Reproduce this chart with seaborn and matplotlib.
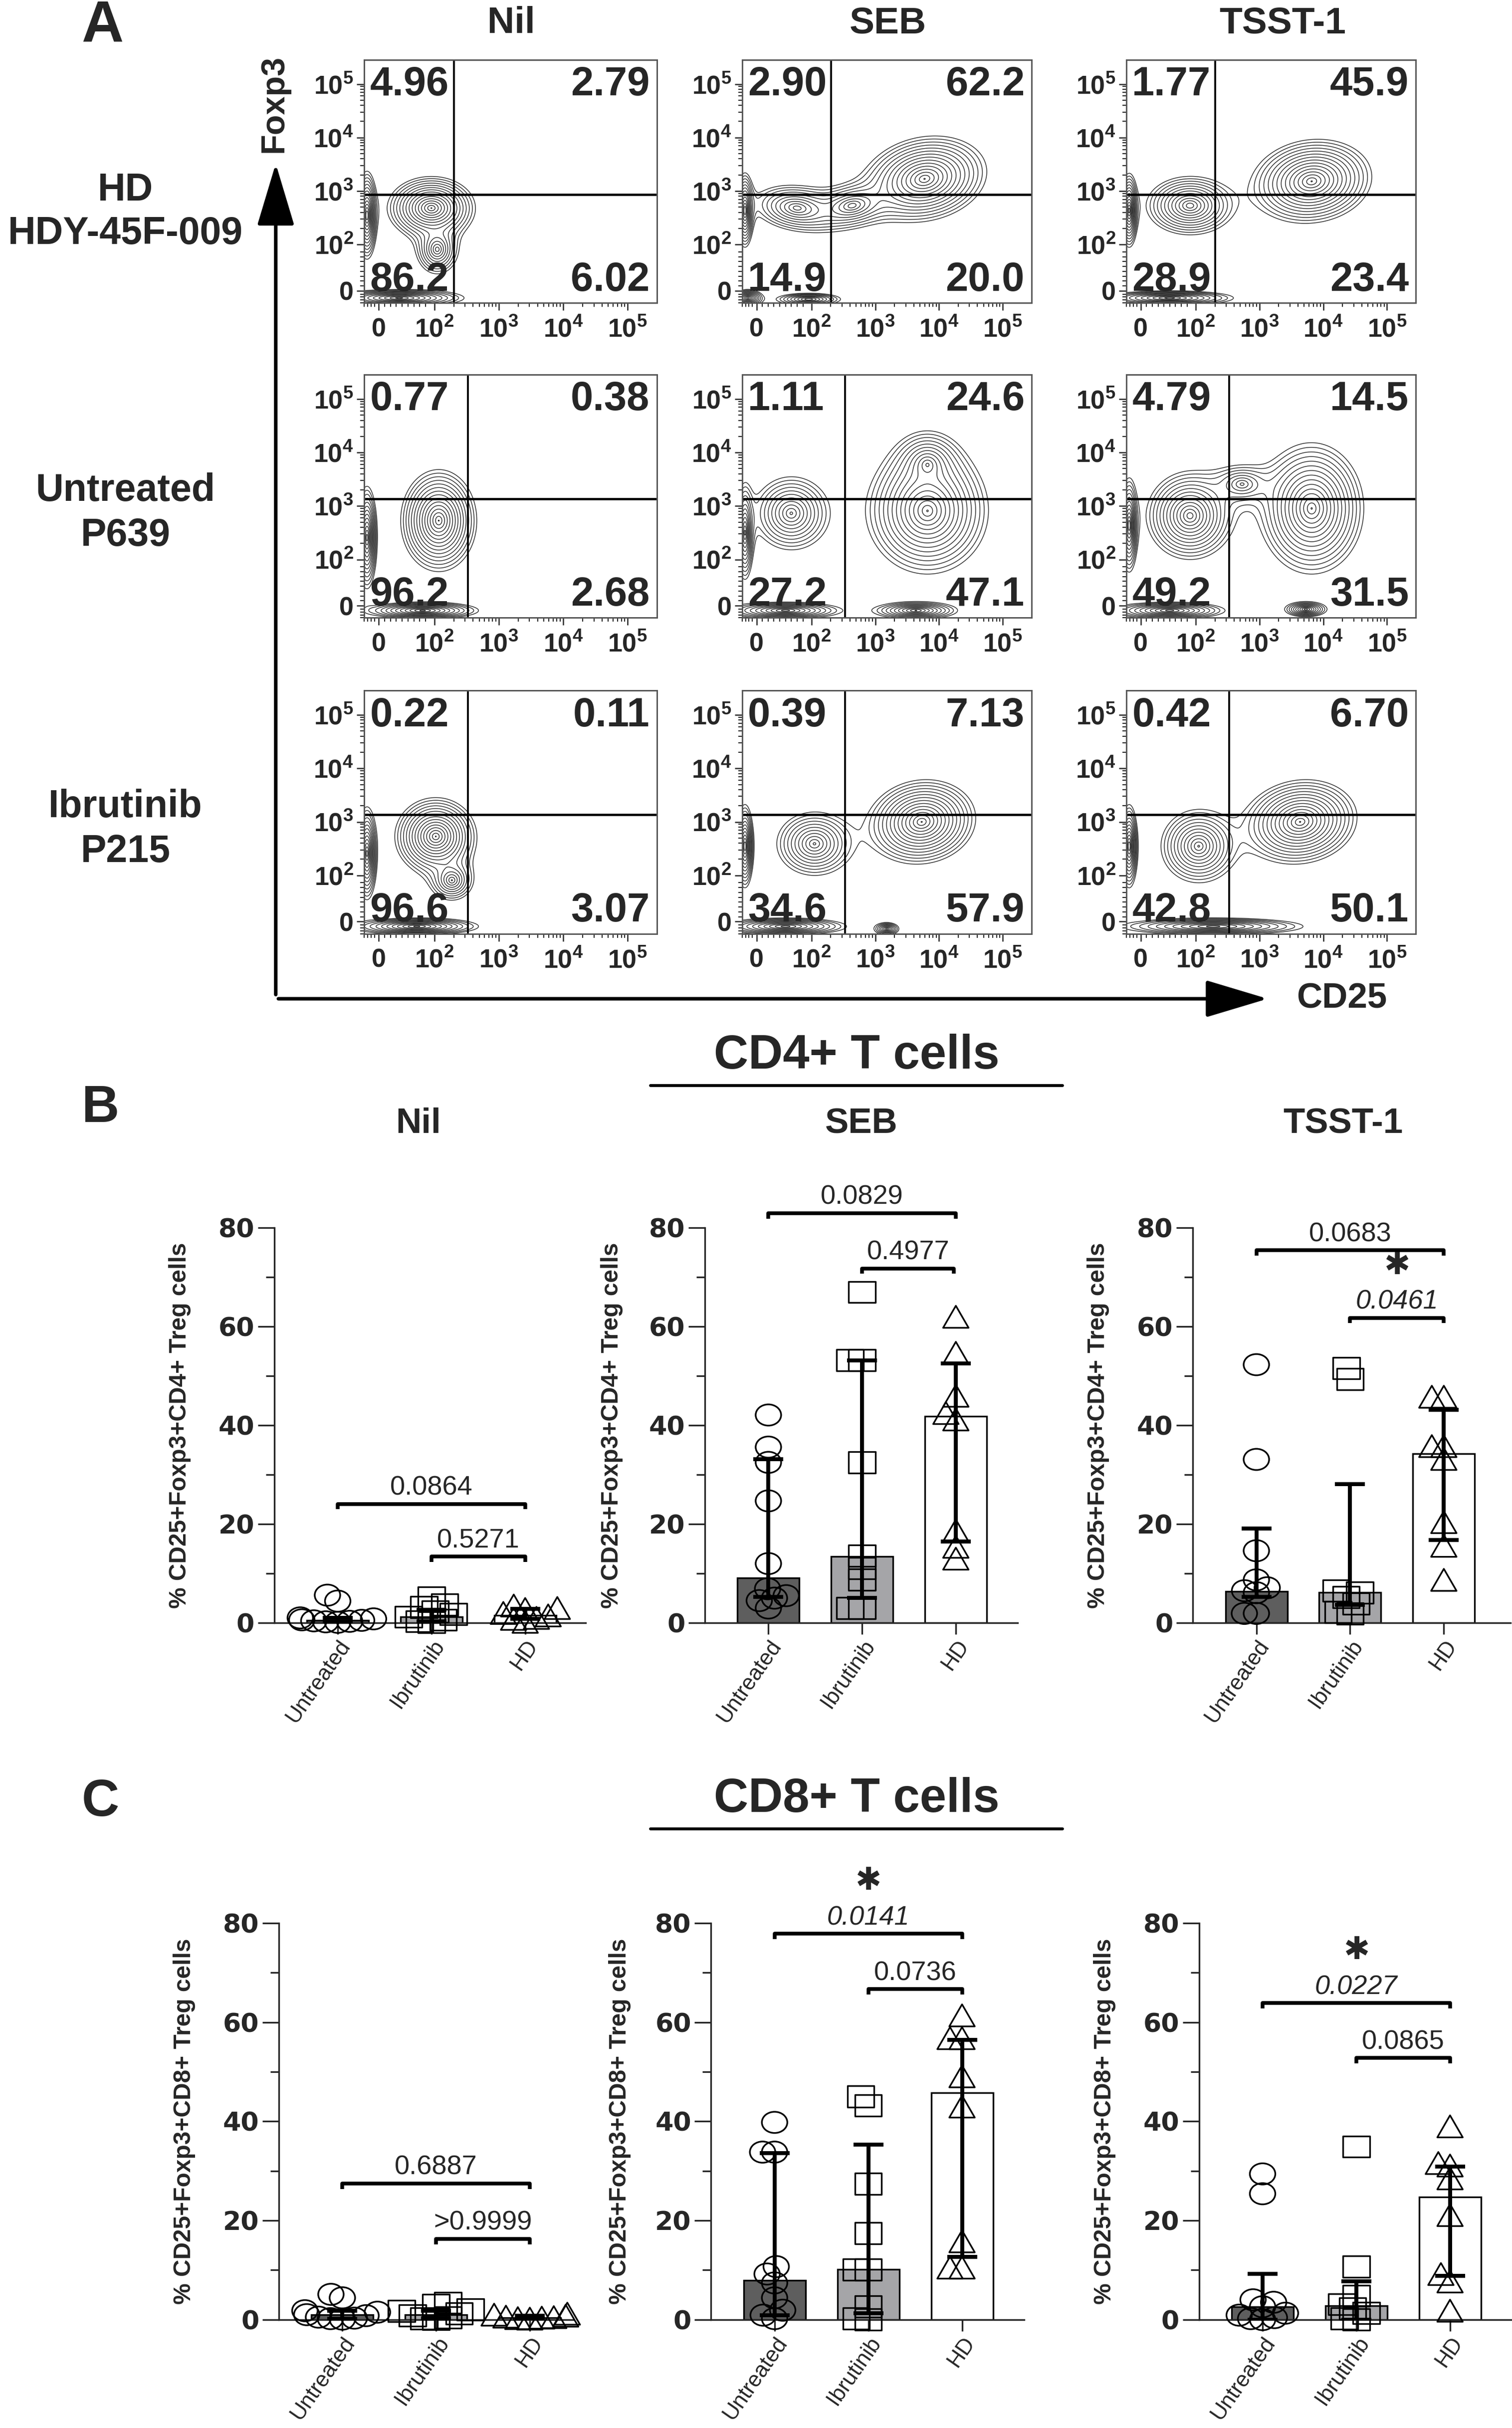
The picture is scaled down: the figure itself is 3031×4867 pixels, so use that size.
import numpy as np
import pandas as pd
import seaborn as sns
import matplotlib.pyplot as plt
from matplotlib.path import Path
from matplotlib.patches import FancyArrowPatch, ArrowStyle
from matplotlib.lines import Line2D
from matplotlib.transforms import Affine2D

# ---------------- data ----------------
groups = ["Untreated", "Ibrutinib", "HD"]
stims = ["Nil", "SEB", "TSST-1"]
donor_lines = [("HD", "HDY-45F-009"), ("Untreated", "P639"), ("Ibrutinib", "P215")]

# quadrant percentages (upper-left, upper-right, lower-left, lower-right)
quad_hd = [["4.96", "2.79", "86.2", "6.02"], ["2.90", "62.2", "14.9", "20.0"], ["1.77", "45.9", "28.9", "23.4"]]
quad_p639 = [["0.77", "0.38", "96.2", "2.68"], ["1.11", "24.6", "27.2", "47.1"], ["4.79", "14.5", "49.2", "31.5"]]
quad_p215 = [["0.22", "0.11", "96.6", "3.07"], ["0.39", "7.13", "34.6", "57.9"], ["0.42", "6.70", "42.8", "50.1"]]

# cell populations seen in the contour plots
# (centre CD25, centre Foxp3, half width, half height, tilt in degrees, relative density), axis fractions
pops_hd_nil = [(0.23, 0.39, 0.15, 0.13, 0, 1.0), (0.25, 0.22, 0.07, 0.10, 0, 0.3),
               (0.01, 0.36, 0.035, 0.18, 0, 0.8), (0.12, 0.02, 0.22, 0.035, 0, 0.5)]
pops_hd_seb = [(0.63, 0.51, 0.22, 0.17, 20, 1.0), (0.19, 0.39, 0.15, 0.09, -10, 0.3),
               (0.38, 0.40, 0.13, 0.08, 15, 0.3), (0.01, 0.38, 0.03, 0.15, 0, 0.6),
               (0.23, 0.015, 0.11, 0.025, 0, 0.25), (0.02, 0.02, 0.05, 0.035, 0, 0.4)]
pops_hd_tsst = [(0.64, 0.50, 0.21, 0.17, 15, 1.0), (0.22, 0.40, 0.15, 0.12, 0, 0.55),
                (0.01, 0.38, 0.03, 0.15, 0, 0.7), (0.15, 0.02, 0.22, 0.03, 0, 0.4)]
pops_p639_nil = [(0.255, 0.40, 0.13, 0.21, 0, 1.0), (0.01, 0.33, 0.035, 0.21, 0, 0.7),
                 (0.20, 0.03, 0.19, 0.035, 0, 0.5)]
pops_p639_seb = [(0.64, 0.44, 0.21, 0.26, 0, 1.0), (0.64, 0.63, 0.10, 0.12, 0, 0.3),
                 (0.17, 0.43, 0.13, 0.15, 0, 0.35), (0.01, 0.35, 0.03, 0.19, 0, 0.5),
                 (0.60, 0.03, 0.14, 0.035, 0, 0.35), (0.15, 0.03, 0.19, 0.035, 0, 0.4)]
pops_p639_tsst = [(0.64, 0.45, 0.18, 0.27, 0, 1.0), (0.22, 0.42, 0.15, 0.18, 0, 0.7),
                  (0.40, 0.55, 0.09, 0.07, 0, 0.15), (0.01, 0.38, 0.03, 0.19, 0, 0.6),
                  (0.62, 0.035, 0.07, 0.03, 0, 0.3), (0.15, 0.03, 0.19, 0.035, 0, 0.4)]
pops_p215_nil = [(0.245, 0.40, 0.14, 0.16, 0, 1.0), (0.30, 0.22, 0.07, 0.08, 0, 0.25),
                 (0.01, 0.33, 0.035, 0.19, 0, 0.7), (0.18, 0.03, 0.21, 0.035, 0, 0.5)]
pops_p215_seb = [(0.62, 0.46, 0.19, 0.17, 25, 1.0), (0.25, 0.37, 0.13, 0.13, 0, 0.35),
                 (0.01, 0.36, 0.03, 0.17, 0, 0.6), (0.15, 0.03, 0.21, 0.035, 0, 0.4),
                 (0.50, 0.02, 0.04, 0.025, 0, 0.2)]
pops_p215_tsst = [(0.60, 0.46, 0.20, 0.17, 20, 1.0), (0.25, 0.36, 0.13, 0.15, 0, 0.45),
                  (0.01, 0.36, 0.03, 0.17, 0, 0.6), (0.30, 0.03, 0.31, 0.035, 0, 0.4)]

# B: CD4+ Treg %, individual subjects, median and interquartile range
cd4_nil_untreated = [5.6, 4.4, 1.0, 0.8, 0.6, 0.5, 0.4, 0.3, 0.2, 0.1]
cd4_nil_ibrutinib = [5.1, 3.7, 3.2, 2.3, 1.8, 1.2, 0.6, 0.3, 0.1]
cd4_nil_hd = [3.5, 3.0, 2.8, 2.0, 1.5, 1.0, 0.8, 0.2]
cd4_nil_median = [0.5, 1.2, 1.5]
cd4_nil_q1 = [0.2, 0.3, 0.8]
cd4_nil_q3 = [1.0, 2.6, 2.8]
cd4_nil_p = ["0.0864", "0.5271"]

cd4_seb_untreated = [42.1, 35.6, 32.5, 24.7, 12.0, 6.9, 5.5, 5.0, 4.5, 3.0]
cd4_seb_ibrutinib = [67.0, 53.2, 53.2, 32.5, 13.6, 11.1, 8.7, 3.0, 3.0]
cd4_seb_hd = [62.0, 54.7, 46.0, 42.5, 41.2, 18.7, 15.4, 13.0]
cd4_seb_median = [9.1, 13.4, 41.8]
cd4_seb_q1 = [5.2, 5.0, 16.5]
cd4_seb_q3 = [33.1, 53.2, 52.6]
cd4_seb_p = ["0.0829", "0.4977"]

cd4_tsst_untreated = [52.3, 33.1, 14.6, 8.7, 7.1, 6.5, 6.1, 1.9, 1.9]
cd4_tsst_ibrutinib = [51.6, 49.4, 6.5, 6.1, 5.2, 3.9, 2.2, 1.9]
cd4_tsst_hd = [45.8, 45.8, 35.8, 35.8, 33.2, 20.4, 15.6, 8.7]
cd4_tsst_median = [6.4, 6.2, 34.3]
cd4_tsst_q1 = [5.2, 3.6, 16.8]
cd4_tsst_q3 = [19.1, 28.1, 43.2]
cd4_tsst_p = ["0.0683", "0.0461"]

# C: CD8+ Treg %
cd8_nil_untreated = [5.1, 4.4, 1.8, 1.5, 1.0, 0.8, 0.5, 0.3, 0.2, 0.1]
cd8_nil_ibrutinib = [3.4, 3.0, 2.0, 1.7, 1.2, 0.8, 0.4, 0.2, 0.1]
cd8_nil_hd = [1.2, 1.0, 0.8, 0.6, 0.5, 0.4, 0.3, 0.2]
cd8_nil_median = [1.0, 1.0, 0.4]
cd8_nil_q1 = [0.2, 0.3, 0.2]
cd8_nil_q3 = [1.8, 1.8, 0.8]
cd8_nil_p = ["0.6887", ">0.9999"]

cd8_seb_untreated = [39.8, 33.8, 33.8, 10.7, 9.2, 7.4, 4.4, 1.9, 0.9, 0.2]
cd8_seb_ibrutinib = [45.0, 43.2, 27.4, 17.4, 10.1, 10.1, 2.6, 0.2, 0.0]
cd8_seb_hd = [61.4, 56.8, 56.8, 49.1, 43.0, 15.8, 10.5, 10.5]
cd8_seb_median = [7.9, 10.1, 45.8]
cd8_seb_q1 = [0.9, 1.3, 12.7]
cd8_seb_q3 = [33.6, 35.3, 56.5]
cd8_seb_p = ["0.0141", "0.0736"]

cd8_tsst_untreated = [29.4, 25.4, 4.0, 3.5, 2.6, 1.3, 0.9, 0.4, 0.2, 0.0]
cd8_tsst_ibrutinib = [34.9, 10.7, 4.8, 3.1, 2.2, 1.3, 0.2, 0.0]
cd8_tsst_hd = [39.0, 31.6, 31.1, 28.5, 21.1, 9.2, 7.7, 1.8]
cd8_tsst_median = [2.6, 2.8, 24.7]
cd8_tsst_q1 = [0.0, 0.0, 8.8]
cd8_tsst_q3 = [9.2, 7.7, 30.9]
cd8_tsst_p = ["0.0227", "0.0865"]

# ---------------- style ----------------
sns.set_style("ticks")
plt.rcParams["font.family"] = ["Liberation Sans", "DejaVu Sans"]
plt.rcParams["mathtext.fontset"] = "custom"
plt.rcParams["mathtext.rm"] = "Liberation Sans:bold"
plt.rcParams["mathtext.bf"] = "Liberation Sans:bold"

bar_colors = ["#5e5e5e", "#a4a4a8", "#ffffff"]

ellipse = Path.unit_circle().transformed(Affine2D().scale(1.2, 1.0))
square = Path([(-1.25, -1), (1.25, -1), (1.25, 1), (-1.25, 1), (-1.25, -1)],
              [Path.MOVETO, Path.LINETO, Path.LINETO, Path.LINETO, Path.CLOSEPOLY])
triangle = Path([(-1, -0.866), (1, -0.866), (0, 0.866), (-1, -0.866)],
                [Path.MOVETO, Path.LINETO, Path.LINETO, Path.CLOSEPOLY])
markers = [ellipse, square, triangle]
marker_s = [150, 165, 150]

# layout in reference pixels (976 x 1568 grid)
W, H = 976.0, 1568.0
fig = plt.figure(figsize=(3031 / 300, 4867 / 300), dpi=300)


def fx(x):
    return x / W


def fy(y):
    return 1 - y / H


def ftext(x, y, s, **kw):
    fig.text(fx(x), fy(y), s, ha=kw.pop("ha", "center"), va=kw.pop("va", "center"), **kw)


# ---------------- panel A: flow plots ----------------
flow_cols = [(235, 424), (479, 666), (727, 914)]
flow_rows = [(38.6, 195.6), (242, 399), (446, 603)]
gate_x = [0.307, 0.355, 0.355]
gate_y = [0.445, 0.49, 0.49]
quads = [quad_hd, quad_p639, quad_p215]
pops = [[pops_hd_nil, pops_hd_seb, pops_hd_tsst],
        [pops_p639_nil, pops_p639_seb, pops_p639_tsst],
        [pops_p215_nil, pops_p215_seb, pops_p215_tsst]]

flow_major = [0.05, 0.24, 0.46, 0.68, 0.90]
flow_labels = ["0", r"$10^{2}$", r"$10^{3}$", r"$10^{4}$", r"$10^{5}$"]
flow_minor = [0.0, 0.012, 0.024, 0.036, 0.07, 0.09, 0.11, 0.13, 0.15, 0.17, 0.19, 0.21]
for k in range(3):
    for m in range(2, 10):
        flow_minor.append(0.24 + 0.22 * (k + np.log10(m)))

grid = np.linspace(0, 1, 450)
U, V = np.meshgrid(grid, grid)
lowest = 0.02
levels = np.geomspace(lowest, 0.95, 15)

for r, (top, bot) in enumerate(flow_rows):
    for c, (left, right) in enumerate(flow_cols):
        ax = fig.add_axes([fx(left), fy(bot), (right - left) / W, (bot - top) / H])
        dens = np.zeros_like(U)
        for cx, cy, hw, hh, ang, peak in pops[r][c]:
            reach = np.log(peak / lowest)
            t = np.deg2rad(ang)
            du, dv = U - cx, V - cy
            a = (du * np.cos(t) + dv * np.sin(t)) / (hw / reach)
            b = (-du * np.sin(t) + dv * np.cos(t)) / (hh / reach)
            dens += peak * np.exp(-np.sqrt(a * a + b * b))
        ax.contour(U, V, dens, levels=levels, colors="#262626", linewidths=0.35)
        ax.axvline(gate_x[r], color="black", lw=0.9)
        ax.axhline(gate_y[r], color="black", lw=1.1)
        ax.set_xlim(0, 1)
        ax.set_ylim(0, 1)
        for sp in ax.spines.values():
            sp.set_linewidth(0.7)
            sp.set_color("#555555")
        ax.set_xticks(flow_major)
        ax.set_yticks(flow_major)
        ax.set_xticks(flow_minor, minor=True)
        ax.set_yticks(flow_minor, minor=True)
        ax.set_xticklabels(flow_labels, fontsize=12.5, fontweight="bold")
        ax.set_yticklabels(flow_labels, fontsize=12.5, fontweight="bold")
        ax.tick_params(which="major", length=3.5, width=0.6, pad=1.5)
        ax.tick_params(which="minor", length=2, width=0.5)
        ax.tick_params(axis="x", which="major", pad=3.5)
        q = quads[r][c]
        kw = dict(fontsize=19.5, fontweight="bold", transform=ax.transAxes)
        ax.text(0.02, 0.975, q[0], ha="left", va="top", **kw)
        ax.text(0.975, 0.975, q[1], ha="right", va="top", **kw)
        ax.text(0.02, 0.015, q[2], ha="left", va="bottom", **kw)
        ax.text(0.975, 0.015, q[3], ha="right", va="bottom", **kw)

ftext(66, 17, "A", fontsize=28, fontweight="bold")
for s, xc in zip(stims, [330, 573, 828]):
    ftext(xc, 15, s, fontsize=18, fontweight="bold")
for (l1, l2), (y1, y2) in zip(donor_lines, [(123, 151), (317, 346), (521, 550)]):
    ftext(81, y1, l1, fontsize=18.5, fontweight="bold")
    ftext(81, y2, l2, fontsize=18.5, fontweight="bold")

astyle = ArrowStyle("-|>", head_length=1.0, head_width=0.3)
fig.add_artist(FancyArrowPatch((fx(178), fy(645)), (fx(178), fy(103)), transform=fig.transFigure,
                               arrowstyle=astyle, mutation_scale=26, lw=1.7, color="black"))
fig.add_artist(FancyArrowPatch((fx(177), fy(645)), (fx(821), fy(645)), transform=fig.transFigure,
                               arrowstyle=astyle, mutation_scale=26, lw=1.7, color="black"))
ftext(177, 67, "Foxp3", fontsize=16, fontweight="bold", rotation=90)
ftext(866, 645, "CD25", fontsize=17, fontweight="bold")

# ---------------- panels B and C: bar + scatter ----------------
swarm_colls = []


def bar_panel(box, pts, med, q1, q3, pvals, brackets, ylab, ylab_x):
    left, right, top, bot = box
    ax = fig.add_axes([fx(left), fy(bot), (right - left) / W, (bot - top) / H])
    df = pd.DataFrame({"group": np.repeat(groups, [len(p) for p in pts]),
                       "value": np.concatenate(pts)})
    sns.barplot(x=groups, y=med, hue=groups, palette=bar_colors, order=groups, hue_order=groups,
                width=0.66, edgecolor="black", linewidth=0.8, errorbar=None, legend=False,
                ax=ax, zorder=1)
    for g, mk, s in zip(groups, markers, marker_s):
        n0 = len(ax.collections)
        sns.swarmplot(data=df[df["group"] == g], x="group", y="value", order=groups,
                      marker=mk, size=5.5, color="black", ax=ax, zorder=3, warn_thresh=1)
        for coll in ax.collections[n0:]:
            swarm_colls.append((coll, s))
    ax.errorbar(range(3), med, yerr=[np.subtract(med, q1), np.subtract(q3, med)], fmt="none",
                ecolor="black", elinewidth=1.9, capsize=7.3, capthick=1.9, zorder=4)
    sp = 60.5
    ax.set_xlim(-41 / sp, (right - left - 41) / sp)
    ax.set_ylim(0, 80)
    ax.set_yticks([0, 20, 40, 60, 80])
    ax.set_yticks([10, 30, 50, 70], minor=True)
    ax.set_yticklabels(["0", "20", "40", "60", "80"], family="DejaVu Sans", fontweight="bold", fontsize=12.5)
    ax.set_xticks(range(3))
    ax.set_xticklabels(groups, rotation=55, ha="right", rotation_mode="anchor", fontsize=10.5)
    ax.set_xlabel("")
    ax.set_ylabel("")
    sns.despine(ax=ax)
    for s in ["left", "bottom"]:
        ax.spines[s].set_linewidth(0.8)
    ax.tick_params(axis="y", which="major", length=8, width=0.8, pad=1.5)
    ax.tick_params(axis="y", which="minor", length=4, width=0.8)
    ax.tick_params(axis="x", length=5.5, width=0.8, pad=1)
    for (x0, x1, yb), p in zip(brackets, pvals):
        sig = float(p.lstrip(">")) < 0.05
        ax.plot([x0, x0, x1, x1], [yb - 1.1, yb, yb, yb - 1.1], color="black", lw=1.8,
                clip_on=False, solid_capstyle="butt", zorder=5)
        ax.text((x0 + x1) / 2, yb + 1.8, p, ha="center", va="baseline", fontsize=13,
                style="italic" if sig else "normal", clip_on=False)
        if sig:
            ax.text((x0 + x1) / 2, yb + 10.6, "\u2731", ha="center", va="center",
                    fontsize=15, family="DejaVu Sans", clip_on=False)
    ftext(ylab_x, (top + bot) / 2, ylab, fontsize=11.5, fontweight="bold", rotation=90)
    return ax


ylab4 = "% CD25+Foxp3+CD4+ Treg cells"
ylab8 = "% CD25+Foxp3+CD8+ Treg cells"
b_top, b_bot = 793, 1048
c_top, c_bot = 1242, 1498

bar_panel((177, 378, b_top, b_bot), [cd4_nil_untreated, cd4_nil_ibrutinib, cd4_nil_hd],
          cd4_nil_median, cd4_nil_q1, cd4_nil_q3, cd4_nil_p, [(0, 2, 24.1), (1, 2, 13.4)], ylab4, 116)
bar_panel((455, 657, b_top, b_bot), [cd4_seb_untreated, cd4_seb_ibrutinib, cd4_seb_hd],
          cd4_seb_median, cd4_seb_q1, cd4_seb_q3, cd4_seb_p, [(0, 2, 83.0), (1, 1.98, 71.8)], ylab4, 395)
bar_panel((770, 975, b_top, b_bot), [cd4_tsst_untreated, cd4_tsst_ibrutinib, cd4_tsst_hd],
          cd4_tsst_median, cd4_tsst_q1, cd4_tsst_q3, cd4_tsst_p, [(0, 2, 75.5), (1, 2, 61.8)], ylab4, 709)
bar_panel((180, 370, c_top, c_bot), [cd8_nil_untreated, cd8_nil_ibrutinib, cd8_nil_hd],
          cd8_nil_median, cd8_nil_q1, cd8_nil_q3, cd8_nil_p, [(0, 2, 27.5), (1, 2, 16.3)], ylab8, 119)
bar_panel((459, 661, c_top, c_bot), [cd8_seb_untreated, cd8_seb_ibrutinib, cd8_seb_hd],
          cd8_seb_median, cd8_seb_q1, cd8_seb_q3, cd8_seb_p, [(0, 2, 77.9), (1, 2, 66.7)], ylab8, 400)
bar_panel((774, 976, c_top, c_bot), [cd8_tsst_untreated, cd8_tsst_ibrutinib, cd8_tsst_hd],
          cd8_tsst_median, cd8_tsst_q1, cd8_tsst_q3, cd8_tsst_p, [(0, 2, 63.9), (1, 2, 52.8)], ylab8, 713)

# headings for B and C
ftext(65, 716, "B", fontsize=25, fontweight="bold")
ftext(553, 682, "CD4+ T cells", fontsize=23, fontweight="bold")
fig.add_artist(Line2D([fx(420), fx(686)], [fy(701), fy(701)], color="black", lw=1.4))
for s, xc in zip(stims, [270, 556, 867]):
    ftext(xc, 726, s, fontsize=17, fontweight="bold")
ftext(65, 1164, "C", fontsize=25, fontweight="bold")
ftext(553, 1162, "CD8+ T cells", fontsize=23, fontweight="bold")
fig.add_artist(Line2D([fx(420), fx(686)], [fy(1181), fy(1181)], color="black", lw=1.4))

# place the swarm with small markers, then freeze positions and enlarge markers
fig.canvas.draw()
for coll, s in swarm_colls:
    coll.__dict__.pop("draw", None)
    if len(coll.get_offsets()) == 0:
        coll.set_visible(False)
        continue
    coll.set_sizes([s])
    coll.set_facecolor("none")
    coll.set_edgecolor("black")
    coll.set_linewidth(0.8)
    coll.set_clip_on(False)

fig.savefig("out.png", dpi=300)
